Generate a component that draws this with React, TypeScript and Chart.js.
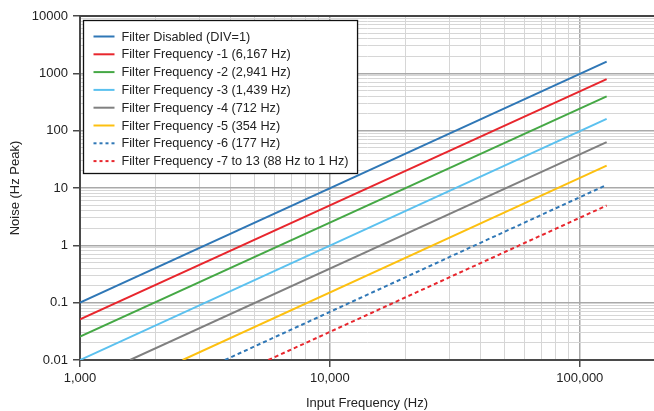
import React, { useEffect, useRef } from 'react';
import { Chart, registerables } from 'chart.js';

Chart.register(...registerables);

const seriesLabels = [
  'Filter Disabled (DIV=1)',
  'Filter Frequency -1 (6,167 Hz)',
  'Filter Frequency -2 (2,941 Hz)',
  'Filter Frequency -3 (1,439 Hz)',
  'Filter Frequency -4 (712 Hz)',
  'Filter Frequency -5 (354 Hz)',
  'Filter Frequency -6 (177 Hz)',
  'Filter Frequency -7 to 13 (88 Hz to 1 Hz)',
];
const seriesColors = ['#2f77b6', '#e8262d', '#45a845', '#5bc1ef', '#808080', '#fdc010', '#2f77b6', '#e8262d'];
const seriesDotted = [false, false, false, false, false, false, true, true];
// start / end input frequency (Hz)
const seriesFreq = [
  [1000, 128000],
  [1000, 128000],
  [1000, 128000],
  [1000, 128000],
  [1585, 128000],
  [2575, 128000],
  [3800, 128000],
  [5670, 128000],
];
// start / end noise (Hz peak)
const seriesNoise = [
  [0.1, 1600],
  [0.051, 790],
  [0.0255, 395],
  [0.01, 160],
  [0.01, 63],
  [0.01, 24.5],
  [0.01, 11.3],
  [0.01, 4.95],
];
const xTickLabels = ['1,000', '10,000', '100,000'];
const yTickLabels = ['0.01', '0.1', '1', '10', '100', '1000', '10000'];
const xMin = 1000;
const xMax = 198000;
const yMin = 0.01;
const yMax = 10000;

const FONT = '"Liberation Sans", Arial, Helvetica, sans-serif';

function isMajor(v: number) {
  const l = Math.log10(v);
  return Math.abs(l - Math.round(l)) < 1e-6;
}

function logTicks(min: number, max: number) {
  const out: { value: number }[] = [];
  for (let e = Math.floor(Math.log10(min)); e <= Math.ceil(Math.log10(max)); e++) {
    for (let m = 1; m <= 9; m++) {
      const v = parseFloat((m * Math.pow(10, e)).toPrecision(6));
      if (v >= min * 0.9999 && v <= max * 1.0001) out.push({ value: v });
    }
  }
  return out;
}

const legendBox = {
  id: 'legendBox',
  afterDatasetsDraw(chart: any) {
    const { ctx, chartArea } = chart;
    ctx.save();
    ctx.font = '12.7px ' + FONT;
    const x0 = chartArea.left + 3.5;
    const y0 = chartArea.top + 4.5;
    const rowH = 17.8;
    const maxW = Math.max(...seriesLabels.map((l) => ctx.measureText(l).width));
    const w = 38 + maxW + 9;
    const h = 153;
    ctx.fillStyle = '#ffffff';
    ctx.fillRect(x0, y0, w, h);
    ctx.strokeStyle = '#111';
    ctx.lineWidth = 1.3;
    ctx.strokeRect(x0, y0, w, h);
    seriesLabels.forEach((label, i) => {
      const cy = y0 + 16 + i * rowH;
      ctx.beginPath();
      ctx.strokeStyle = seriesColors[i];
      ctx.lineWidth = 2;
      ctx.setLineDash(seriesDotted[i] ? [3, 3] : []);
      ctx.moveTo(x0 + 10, cy);
      ctx.lineTo(x0 + 31, cy);
      ctx.stroke();
      ctx.setLineDash([]);
      ctx.fillStyle = '#222';
      ctx.textBaseline = 'middle';
      ctx.textAlign = 'left';
      ctx.fillText(label, x0 + 38, cy + 0.5);
    });
    ctx.restore();
  },
};

const topBorder = {
  id: 'topBorder',
  afterDraw(chart: any) {
    const { ctx, chartArea } = chart;
    ctx.save();
    ctx.strokeStyle = '#444';
    ctx.lineWidth = 2;
    ctx.beginPath();
    ctx.moveTo(chartArea.left - 1, chartArea.top);
    ctx.lineTo(chartArea.right, chartArea.top);
    ctx.stroke();
    ctx.restore();
  },
};

export default function App() {
  const ref = useRef<HTMLCanvasElement | null>(null);
  useEffect(() => {
    if (!ref.current) return;
    const datasets = seriesLabels.map((label, i) => ({
      label,
      data: [
        { x: seriesFreq[i][0], y: seriesNoise[i][0] },
        { x: seriesFreq[i][1], y: seriesNoise[i][1] },
      ],
      borderColor: seriesColors[i],
      backgroundColor: seriesColors[i],
      borderWidth: 2,
      borderDash: seriesDotted[i] ? [4, 3] : [],
      pointRadius: 0,
      fill: false,
    }));
    const chart = new Chart(ref.current, {
      type: 'line',
      data: { datasets },
      plugins: [legendBox, topBorder],
      options: {
        responsive: false,
        animation: false,
        layout: { padding: { top: 16, left: 0, right: 0, bottom: 0 } },
        plugins: { legend: { display: false }, tooltip: { enabled: false } },
        scales: {
          x: {
            type: 'logarithmic',
            min: xMin,
            max: xMax,
            afterBuildTicks: (scale: any) => {
              scale.ticks = logTicks(xMin, xMax);
            },
            afterFit: (scale: any) => {
              scale.height = 51;
            },
            border: { color: '#4a4a4a', width: 2 },
            grid: {
              color: (c: any) => (c.tick && isMajor(c.tick.value) ? '#a9a9a9' : '#d6d6d6'),
              lineWidth: (c: any) => (c.tick && isMajor(c.tick.value) ? 1.5 : 1),
              tickColor: (c: any) => (c.tick && isMajor(c.tick.value) ? '#4a4a4a' : 'rgba(0,0,0,0)'),
              tickLength: 7,
              tickWidth: 1.5,
            },
            ticks: {
              autoSkip: false,
              maxRotation: 0,
              minRotation: 0,
              padding: 4,
              color: '#222',
              font: { family: FONT, size: 13 },
              callback: (v: any) => {
                const n = Number(v);
                if (!isMajor(n)) return '';
                const idx = Math.round(Math.log10(n)) - 3;
                return xTickLabels[idx] ?? '';
              },
            },
            title: {
              display: true,
              text: 'Input Frequency (Hz)',
              color: '#222',
              font: { family: FONT, size: 13 },
              padding: { top: 0, bottom: 0 },
            },
          },
          y: {
            type: 'logarithmic',
            min: yMin,
            max: yMax,
            afterBuildTicks: (scale: any) => {
              scale.ticks = logTicks(yMin, yMax);
            },
            afterFit: (scale: any) => {
              scale.width = 80;
            },
            border: { color: '#4a4a4a', width: 2 },
            grid: {
              color: (c: any) => (c.tick && isMajor(c.tick.value) ? '#a9a9a9' : '#d6d6d6'),
              lineWidth: (c: any) => (c.tick && isMajor(c.tick.value) ? 1.5 : 1),
              tickColor: (c: any) => (c.tick && isMajor(c.tick.value) ? '#4a4a4a' : 'rgba(0,0,0,0)'),
              tickLength: 7,
              tickWidth: 1.5,
            },
            ticks: {
              autoSkip: false,
              padding: 5,
              color: '#222',
              font: { family: FONT, size: 13 },
              callback: (v: any) => {
                const n = Number(v);
                if (!isMajor(n)) return '';
                const idx = Math.round(Math.log10(n)) + 2;
                return yTickLabels[idx] ?? '';
              },
            },
            title: {
              display: true,
              text: 'Noise (Hz Peak)',
              color: '#222',
              font: { family: FONT, size: 13 },
              padding: { top: 8, bottom: 0 },
            },
          },
        },
      },
    } as any);
    return () => chart.destroy();
  }, []);
  return (
    <div style={{ position: 'fixed', left: 0, top: 0, width: 654, height: 411, background: '#fff' }}>
      <canvas ref={ref} width={654} height={411} style={{ display: 'block' }} />
    </div>
  );
}
